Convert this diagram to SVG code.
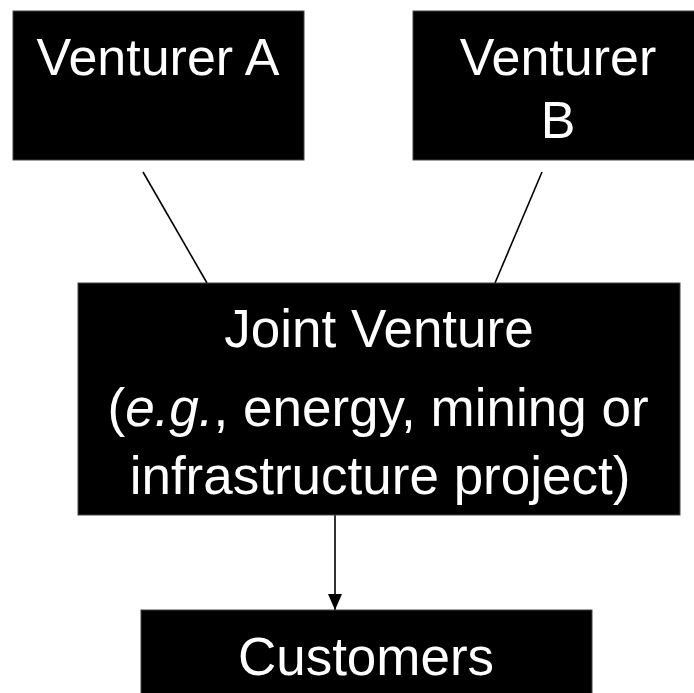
<svg xmlns="http://www.w3.org/2000/svg" width="694" height="693" viewBox="0 0 694 693">
<style>
.box{fill:#000;stroke:#444;stroke-width:1}
.t{fill:#fff;font-family:"Liberation Sans",Arial,sans-serif;font-size:52px;text-anchor:middle}
.l{font-size:53px}
.c{stroke:#000;stroke-width:1.6;fill:none}
</style>
<defs>
<marker id="ah" markerWidth="16" markerHeight="14" refX="16" refY="7" orient="auto" markerUnits="userSpaceOnUse">
<path d="M0,0 L16,7 L0,14 Z" fill="#000"/>
</marker>
</defs>
<rect width="694" height="693" fill="#fff"/>
<g id="connectors">
<line class="c" x1="143" y1="172" x2="207" y2="283"/>
<line class="c" x1="542" y1="172" x2="495" y2="283"/>
<line class="c" x1="335" y1="515" x2="335" y2="610" marker-end="url(#ah)"/>
</g>
<g id="venturerA">
<rect class="box" x="13" y="11" width="291" height="149"/>
<text class="t" x="158" y="75">Venturer A</text>
</g>
<g id="venturerB">
<rect class="box" x="413" y="11" width="290" height="149"/>
<text class="t" x="558" y="75">Venturer</text>
<text class="t" x="558" y="138">B</text>
</g>
<g id="jointVenture">
<rect class="box" x="78" y="283" width="602" height="232"/>
<text class="t l" x="379" y="347">Joint Venture</text>
<text class="t l" x="378" y="426">(<tspan font-style="italic">e.g.</tspan>, energy, mining or</text>
<text class="t l" x="380" y="494">infrastructure project)</text>
</g>
<g id="customers">
<rect class="box" x="141" y="610" width="451" height="90"/>
<text class="t l" x="366" y="675">Customers</text>
</g>
</svg>
